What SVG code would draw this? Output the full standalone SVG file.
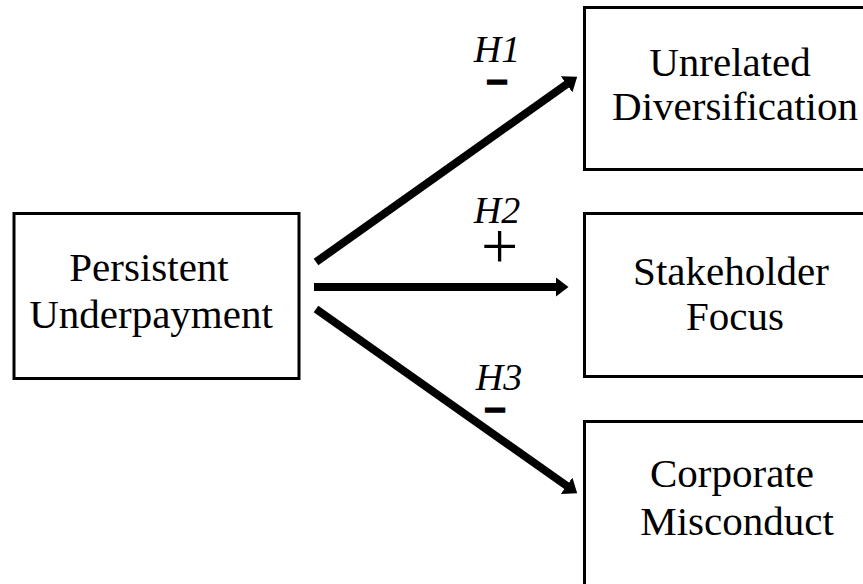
<svg xmlns="http://www.w3.org/2000/svg" width="863" height="584" viewBox="0 0 863 584">
<style>
.box{fill:#fff;stroke:#000;stroke-width:3}
.t{font-family:"Liberation Serif","Times New Roman",serif;font-size:41px;fill:#000;text-anchor:middle}
.h{font-family:"Liberation Serif","Times New Roman",serif;font-size:38px;font-style:italic;fill:#000;text-anchor:middle}
.sign{font-family:"Liberation Sans",Arial,sans-serif;font-style:normal;font-weight:bold;font-size:38px;stroke:#000;stroke-width:1.5}
.plus{font-family:"Liberation Serif","Times New Roman",serif;font-style:normal;font-size:66px}
.arr{stroke:#000;stroke-width:8;fill:none;marker-end:url(#ah)}
</style>
<defs>
<marker id="ah" viewBox="0 0 13 20" refX="0.5" refY="10" markerWidth="13" markerHeight="20" markerUnits="userSpaceOnUse" orient="auto">
<path d="M0,0 L13,10 L0,20 Z" fill="#000"/>
</marker>
</defs>
<rect width="863" height="584" fill="#fff"/>
<g id="persistent-underpayment">
<rect class="box" x="14" y="213.5" width="285" height="165"/>
<text class="t" x="149" y="281">Persistent</text>
<text class="t" x="151" y="328">Underpayment</text>
</g>
<g id="unrelated-diversification">
<rect class="box" x="584.5" y="7.5" width="300" height="162"/>
<text class="t" x="730" y="76">Unrelated</text>
<text class="t" x="735" y="120">Diversification</text>
</g>
<g id="stakeholder-focus">
<rect class="box" x="584.5" y="213.5" width="300" height="163"/>
<text class="t" x="731" y="285">Stakeholder</text>
<text class="t" x="735" y="330">Focus</text>
</g>
<g id="corporate-misconduct">
<rect class="box" x="584.5" y="421.5" width="300" height="170"/>
<text class="t" x="732" y="487">Corporate</text>
<text class="t" x="737" y="535">Misconduct</text>
</g>
<g id="connectors">
<line class="arr" x1="316" y1="262" x2="567" y2="84"/>
<line class="arr" x1="314" y1="287" x2="556" y2="287"/>
<line class="arr" x1="316" y1="309" x2="567" y2="486"/>
</g>
<g id="labels">
<text class="h"><tspan x="497" y="62">H1</tspan><tspan class="sign" x="497" y="93">–</tspan></text>
<text class="h"><tspan x="497" y="223">H2</tspan><tspan class="plus" x="499.5" y="268">+</tspan></text>
<text class="h"><tspan x="499" y="390">H3</tspan><tspan class="sign" x="495" y="421">–</tspan></text>
</g>
</svg>
